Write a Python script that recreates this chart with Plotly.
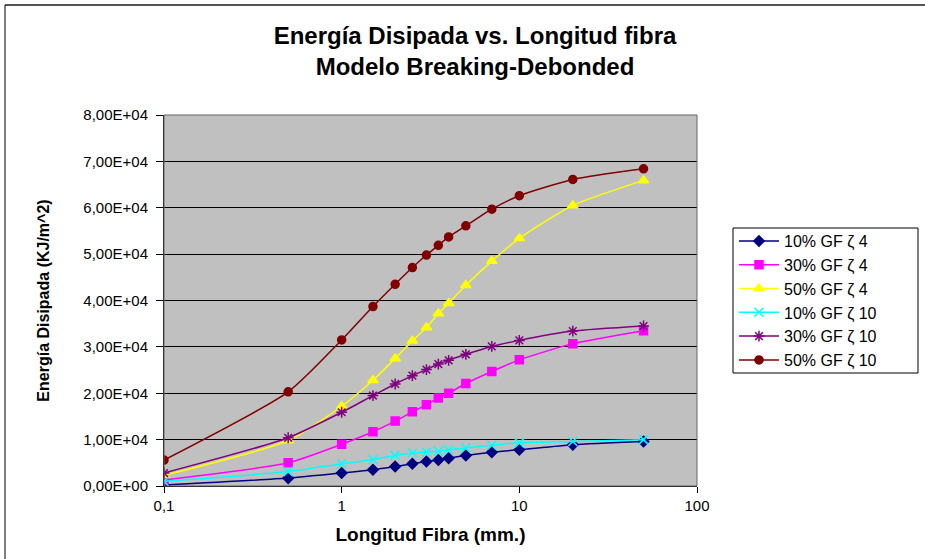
import plotly.graph_objects as go

# fibre length (mm)
longitud = [0.1, 0.5, 1, 1.5, 2, 2.5, 3, 3.5, 4, 5, 7, 10, 20, 50]

gf10_z4 = [200, 1700, 2800, 3500, 4200, 4800, 5300, 5600, 6000, 6600, 7300, 7800, 8900, 9600]
gf30_z4 = [1300, 5000, 9000, 11700, 14000, 16000, 17500, 19000, 20000, 22100, 24700, 27200, 30700, 33500]
gf50_z4 = [2300, 9800, 17200, 22800, 27500, 31300, 34200, 37200, 39400, 43300, 48500, 53400, 60500, 65900]
gf10_z10 = [1000, 3100, 4800, 5700, 6600, 7100, 7300, 7500, 7800, 8200, 8800, 9300, 9600, 10000]
gf30_z10 = [2800, 10400, 15900, 19500, 22000, 23800, 25100, 26300, 27100, 28400, 30100, 31400, 33400, 34500]
gf50_z10 = [5600, 20300, 31500, 38700, 43500, 47100, 49800, 51900, 53700, 56100, 59700, 62600, 66100, 68400]

series_names = ["10% GF ζ 4", "30% GF ζ 4", "50% GF ζ 4",
                "10% GF ζ 10", "30% GF ζ 10", "50% GF ζ 10"]

y_tickvals = [0, 10000, 20000, 30000, 40000, 50000, 60000, 70000, 80000]
y_ticktext = ["0,00E+00", "1,00E+04", "2,00E+04", "3,00E+04", "4,00E+04",
              "5,00E+04", "6,00E+04", "7,00E+04", "8,00E+04"]
x_tickvals = [0.1, 1, 10, 100]
x_ticktext = ["0,1", "1", "10", "100"]

FONT = "Arial, Liberation Sans, sans-serif"

styles = [
    dict(color="#000080", symbol="diamond", size=8),
    dict(color="#FF00FF", symbol="square", size=8),
    dict(color="#FFFF00", symbol="triangle-up", size=9),
    dict(color="#00FFFF", symbol="x-thin-open", size=9),
    dict(color="#800080", symbol="asterisk-open", size=9),
    dict(color="#800000", symbol="circle", size=8),
]
all_y = [gf10_z4, gf30_z4, gf50_z4, gf10_z10, gf30_z10, gf50_z10]

fig = go.Figure()
for i, (name, yv, st) in enumerate(zip(series_names, all_y, styles)):
    fig.add_trace(go.Scatter(
        x=longitud, y=yv, name=name, mode="lines+markers",
        legendgroup=str(i),
        line=dict(color=st["color"], width=1.5, shape="spline", smoothing=0.6),
        marker=dict(symbol=st["symbol"], size=st["size"], color=st["color"],
                    line=dict(color=st["color"], width=1.5)),
    ))

W, H = 925, 559
L, R, T, B = 164, 228, 115, 73
pw, ph = W - L - R, H - T - B

def px_x(p):
    return (p - L) / pw

def px_y(p):
    return (H - B - p) / ph

fig.update_layout(
    width=W, height=H,
    margin=dict(l=L, r=R, t=T, b=B),
    paper_bgcolor="white",
    plot_bgcolor="#C0C0C0",
    font=dict(family=FONT, color="black", size=14),
    title=dict(
        text="<b>Energía Disipada vs. Longitud fibra<br>Modelo Breaking-Debonded</b>",
        x=px_x(475), xref="paper", xanchor="center",
        y=1 - 44 / H, yanchor="middle",
        font=dict(size=24, family=FONT, color="black"),
    ),
    legend=dict(
        x=px_x(734), y=px_y(224), xanchor="left", yanchor="top",
        borderwidth=0, bgcolor="rgba(0,0,0,0)",
        font=dict(size=16, family=FONT),
        itemwidth=40,
        tracegroupgap=0,
    ),
    shapes=[
        # outer chart frame (top and left edges visible)
        dict(type="line", xref="paper", yref="paper",
             x0=px_x(5), x1=px_x(W), y0=px_y(5), y1=px_y(5),
             line=dict(color="#555555", width=2)),
        dict(type="line", xref="paper", yref="paper",
             x0=px_x(5), x1=px_x(5), y0=px_y(5), y1=px_y(H),
             line=dict(color="black", width=1)),
        # plot area border
        dict(type="rect", xref="paper", yref="paper",
             x0=0, x1=1, y0=0, y1=1, layer="above",
             line=dict(color="#666666", width=1)),
        # legend frame
        dict(type="rect", xref="paper", yref="paper",
             x0=px_x(733), x1=px_x(918), y0=px_y(228), y1=px_y(373),
             fillcolor="white", layer="below",
             line=dict(color="black", width=1)),
    ],
)

fig.update_xaxes(
    type="log", range=[-1, 2],
    tickvals=x_tickvals, ticktext=x_ticktext,
    ticks="outside", ticklen=6, tickcolor="black",
    showgrid=False, zeroline=False,
    showline=True, linecolor="black", linewidth=1,
    tickfont=dict(size=15, family=FONT),
    title=dict(text="<b>Longitud Fibra (mm.)</b>", font=dict(size=19, family=FONT), standoff=14),
)

fig.update_yaxes(
    range=[0, 80000],
    tickvals=y_tickvals, ticktext=y_ticktext,
    ticks="outside", ticklen=7, tickcolor="black",
    ticklabelstandoff=5,
    showgrid=True, gridcolor="black", gridwidth=1, zeroline=False,
    showline=True, linecolor="black", linewidth=1,
    tickfont=dict(size=15, family=FONT),
    title=dict(text="<b>Energía Disipada (KJ/m^2)</b>", font=dict(size=16, family=FONT), standoff=29),
)

fig.write_html("out.html", config={"displayModeBar": False},
               post_script="document.body.style.margin='0px';")
